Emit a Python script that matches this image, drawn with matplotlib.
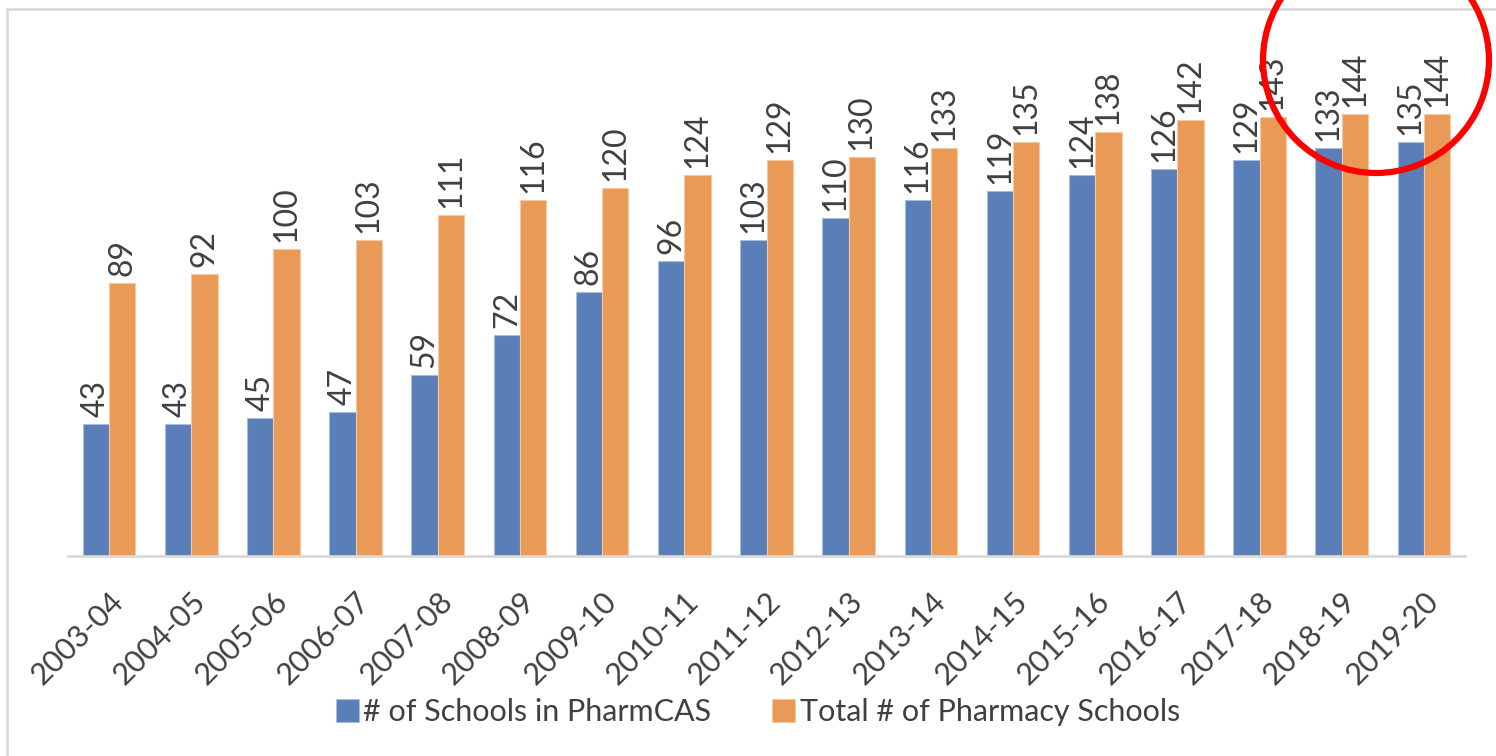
import matplotlib as mpl
import matplotlib.pyplot as plt
from matplotlib.patches import Ellipse, Rectangle
import numpy as np

mpl.rcParams['font.family'] = ['Lato', 'DejaVu Sans']

years = ["2003-04", "2004-05", "2005-06", "2006-07", "2007-08", "2008-09",
         "2009-10", "2010-11", "2011-12", "2012-13", "2013-14", "2014-15",
         "2015-16", "2016-17", "2017-18", "2018-19", "2019-20"]
pharmcas = [43, 43, 45, 47, 59, 72, 86, 96, 103, 110, 116, 119, 124, 126, 129, 133, 135]
total = [89, 92, 100, 103, 111, 116, 120, 124, 129, 130, 133, 135, 138, 142, 143, 144, 144]

W, H = 1496, 756
fig = plt.figure(figsize=(W / 100, H / 100), dpi=100)
fig.set_facecolor("white")

# frame around the chart area
fig.add_artist(Rectangle((7 / W, -0.01), (W - 7) / W + 0.01, 1 - 9 / H + 0.01,
                         transform=fig.transFigure, fill=False,
                         edgecolor="#D9D9D9", lw=2))

ax = fig.add_axes([68 / W, 1 - 556 / H, (1465 - 68) / W, (556 - 20) / H])
x = np.arange(len(years))
bw = 0.32
blue = "#5A7FB8"
orange = "#E99A57"
b1 = ax.bar(x - bw / 2, pharmcas, bw, color=blue, edgecolor="#A9BCDB", lw=0.8,
            label="# of Schools in PharmCAS")
b2 = ax.bar(x + bw / 2, total, bw, color=orange, edgecolor="#F5C9A3", lw=0.8,
            label="Total # of Pharmacy Schools")
for bars in (b1, b2):
    ax.bar_label(bars, padding=5, rotation=90, fontsize=23, color="#404040")

ax.set_xlim(-0.5, len(years) - 0.5)
ax.set_ylim(0, 536 / 3.07)
ax.set_yticks([])
ax.set_xticks(x)
ax.set_xticklabels(years, rotation=45, ha="right", rotation_mode="anchor",
                   fontsize=22, color="#404040")
ax.tick_params(axis="x", length=0, pad=22)
for s in ("top", "right", "left"):
    ax.spines[s].set_visible(False)
ax.spines["bottom"].set_color("#D9D9D9")
ax.spines["bottom"].set_linewidth(2)

ax.legend(loc="center", bbox_to_anchor=(758 / W, 1 - 712 / H),
          bbox_transform=fig.transFigure, ncol=2, frameon=False,
          fontsize=22, labelcolor="#404040", handlelength=0.75,
          handleheight=0.75, handletextpad=0.15, columnspacing=2.0)

# red highlight circle
fig.add_artist(Ellipse((1376 / W, 1 - 60 / H), 226 / W, 226 / H,
                       transform=fig.transFigure, fill=False,
                       edgecolor="#FF0000", lw=4.5, clip_on=False))

fig.savefig("out.png", dpi=100)
